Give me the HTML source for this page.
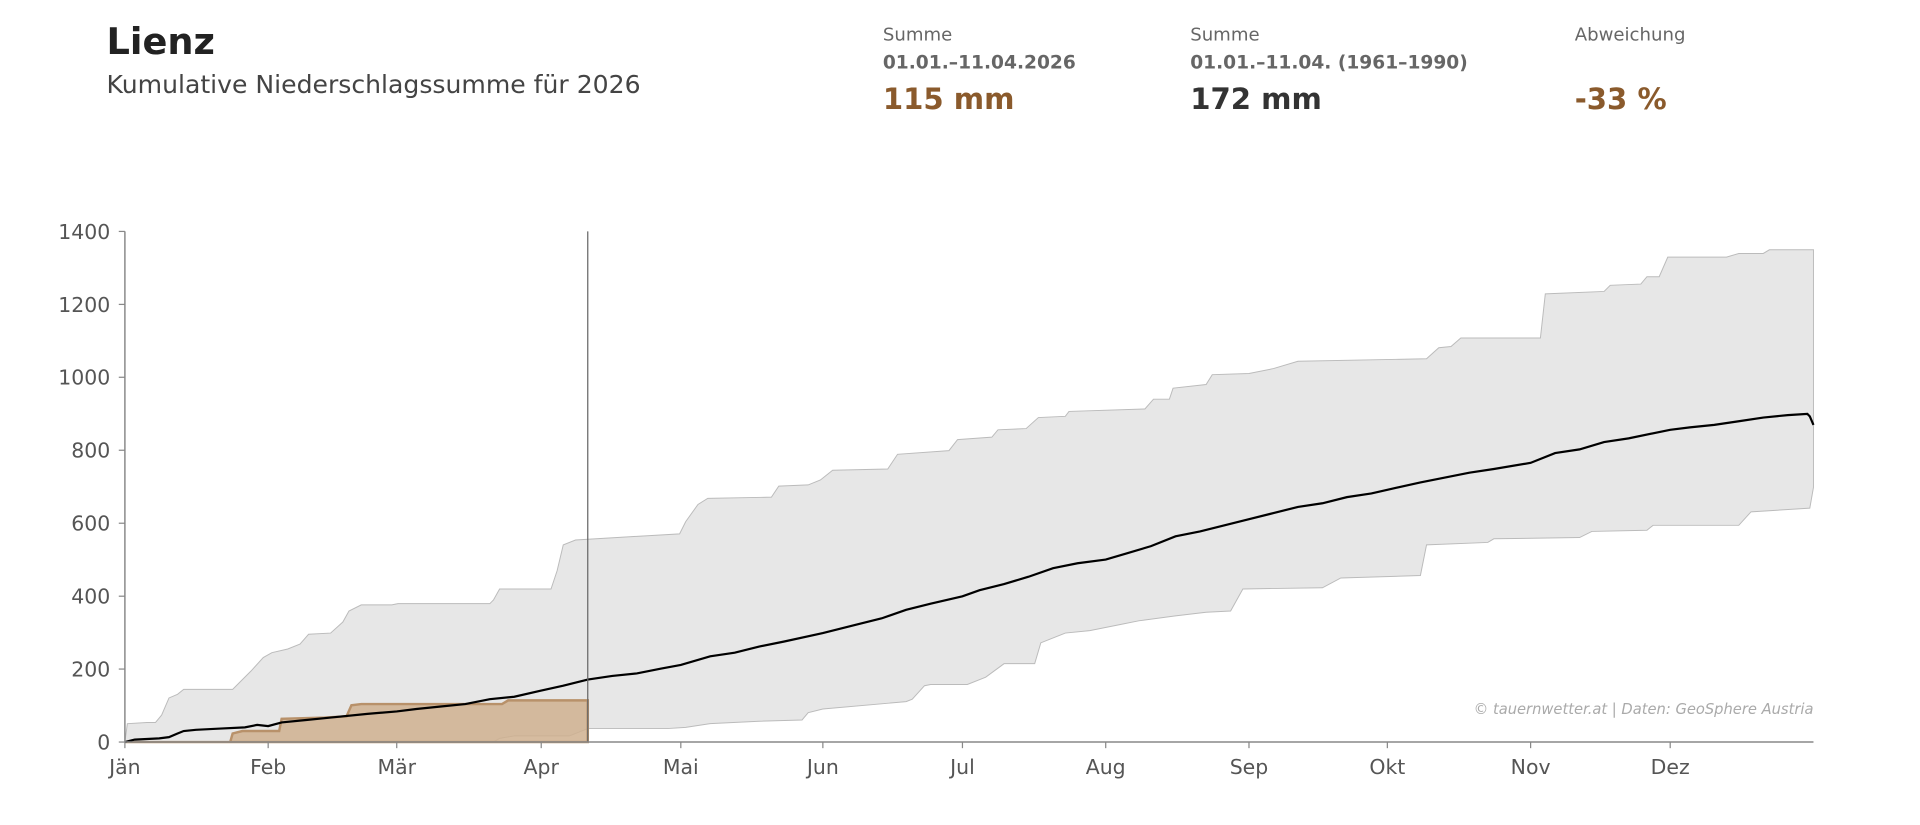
<!DOCTYPE html>
<html><head><meta charset="utf-8"><style>
html,body{margin:0;padding:0;background:#fff;}
svg{display:block;font-family:"DejaVu Sans","Liberation Sans",sans-serif;}
</style></head><body>
<svg width="1920" height="825" viewBox="0 0 1568 673.75" xmlns="http://www.w3.org/2000/svg">
<rect width="1568" height="674" fill="#fff"/>
<text x="87" y="44" font-size="30" font-weight="bold" fill="#222">Lienz</text>
<text x="87" y="76" font-size="20.5" fill="#444">Kumulative Niederschlagssumme für 2026</text>
<text x="721" y="33" font-size="14.8" fill="#666">Summe</text>
<text x="721" y="56" font-size="15.2" font-weight="bold" fill="#666">01.01.–11.04.2026</text>
<text x="721" y="89" font-size="23.8" font-weight="bold" fill="#8a5a2c">115 mm</text>
<text x="972" y="33" font-size="14.8" fill="#666">Summe</text>
<text x="972" y="56" font-size="15.2" font-weight="bold" fill="#666">01.01.–11.04. (1961–1990)</text>
<text x="972" y="89" font-size="23.8" font-weight="bold" fill="#333">172 mm</text>
<text x="1286" y="33" font-size="14.8" fill="#666">Abweichung</text>
<text x="1286" y="89" font-size="23.8" font-weight="bold" fill="#8a5a2c">-33 %</text>

<polygon fill="#e7e7e7" stroke="#bbb" stroke-width="0.8" points="102,606 104,591 120,590 127,590 132,584 138,570 145,567 150,563 190,563 195,558 205,548 215,537 222,533 235,530 245,526 252,518 270,517 280,508 285,499 295,494 320,494 325,493 400,493 403,490 408,481 450,481 455,466 460,445 470,441 520,438 555,436 560,426 570,412 578,407 630,406 636,397 660,396 670,392 680,384 725,383 733,371 775,368 782,359 810,357 815,351 838,350 848,341 870,340 873,336 935,334 942,326 955,326 958,317 985,314 990,306 1020,305 1040,301 1060,295 1165,293 1175,284 1185,283 1193,276 1258,276 1262,240 1310,238 1315,233 1340,232 1345,226 1355,226 1362,210 1410,210 1420,207 1440,207 1445,204 1481,204 1481,398 1478,415 1430,418 1420,429 1350,429 1345,433 1300,434 1290,439 1220,440 1215,443 1165,445 1160,470 1095,472 1080,480 1015,481 1005,499 985,500 960,503 930,507 915,510 890,515 870,517 850,525 845,542 820,542 805,553 790,559 760,559 755,560 745,571 740,573 672,579 660,582 655,588 620,589 580,591 560,594 545,595 480,595 475,597 465,601 420,601 408,603 403,606"/>

<polygon fill="#cfb08f" fill-opacity="0.85" stroke="#b8916a" stroke-width="2" points="102,606 188,606 190,599 198,597 228,597 230,587 265,586 283,585 287,576 295,575 410,575 415,572 480,572 480,606"/>

<polyline fill="none" stroke="#000" stroke-width="1.8" points="102,606 110,604 130,603 138,602 145,599 150,597 160,596 180,595 200,594 210,592 219,593 230,590 250,588 270,586 300,583 324,581 340,579 360,577 380,575 400,571 420,569 442,564 460,560 480,555 500,552 520,550 540,546 556,543 580,536 600,533 620,528 640,524 672,517 700,510 720,505 740,498 760,493 786,487 800,482 820,477 840,471 860,464 880,460 903,457 920,452 940,446 960,438 980,434 1000,429 1020,424 1040,419 1060,414 1080,411 1100,406 1120,403 1133,400 1160,394 1180,390 1200,386 1220,383 1250,378 1270,370 1290,367 1310,361 1330,358 1364,351 1380,349 1400,347 1420,344 1440,341 1460,339 1476,338 1478,340 1481,347"/>

<line x1="480" y1="189" x2="480" y2="606" stroke="#666" stroke-width="1"/>
<line x1="102" y1="189" x2="102" y2="606" stroke="#888" stroke-width="1.2"/>
<line x1="102" y1="606" x2="1481" y2="606" stroke="#888" stroke-width="1.2"/>

<g stroke="#888" stroke-width="1">
<line x1="97" y1="606" x2="102" y2="606"/><line x1="97" y1="546.4" x2="102" y2="546.4"/><line x1="97" y1="486.9" x2="102" y2="486.9"/><line x1="97" y1="427.3" x2="102" y2="427.3"/><line x1="97" y1="367.7" x2="102" y2="367.7"/><line x1="97" y1="308.1" x2="102" y2="308.1"/><line x1="97" y1="248.6" x2="102" y2="248.6"/><line x1="97" y1="189" x2="102" y2="189"/>
<line x1="102" y1="606" x2="102" y2="611"/><line x1="219" y1="606" x2="219" y2="611"/><line x1="324" y1="606" x2="324" y2="611"/><line x1="442" y1="606" x2="442" y2="611"/><line x1="556" y1="606" x2="556" y2="611"/><line x1="672" y1="606" x2="672" y2="611"/><line x1="786" y1="606" x2="786" y2="611"/><line x1="903" y1="606" x2="903" y2="611"/><line x1="1020" y1="606" x2="1020" y2="611"/><line x1="1133" y1="606" x2="1133" y2="611"/><line x1="1250" y1="606" x2="1250" y2="611"/><line x1="1364" y1="606" x2="1364" y2="611"/>
</g>
<g font-size="16.7" fill="#555" text-anchor="end">
<text x="90" y="612">0</text><text x="90" y="552.4">200</text><text x="90" y="492.9">400</text><text x="90" y="433.3">600</text><text x="90" y="373.7">800</text><text x="90" y="314.1">1000</text><text x="90" y="254.6">1200</text><text x="90" y="195">1400</text>
</g>
<g font-size="16.7" fill="#555" text-anchor="middle">
<text x="102" y="632">Jän</text><text x="219" y="632">Feb</text><text x="324" y="632">Mär</text><text x="442" y="632">Apr</text><text x="556" y="632">Mai</text><text x="672" y="632">Jun</text><text x="786" y="632">Jul</text><text x="903" y="632">Aug</text><text x="1020" y="632">Sep</text><text x="1133" y="632">Okt</text><text x="1250" y="632">Nov</text><text x="1364" y="632">Dez</text>
</g>
<text x="1481" y="583" font-size="12" font-style="italic" fill="#aaa" text-anchor="end">© tauernwetter.at | Daten: GeoSphere Austria</text>
</svg>
</body></html>
